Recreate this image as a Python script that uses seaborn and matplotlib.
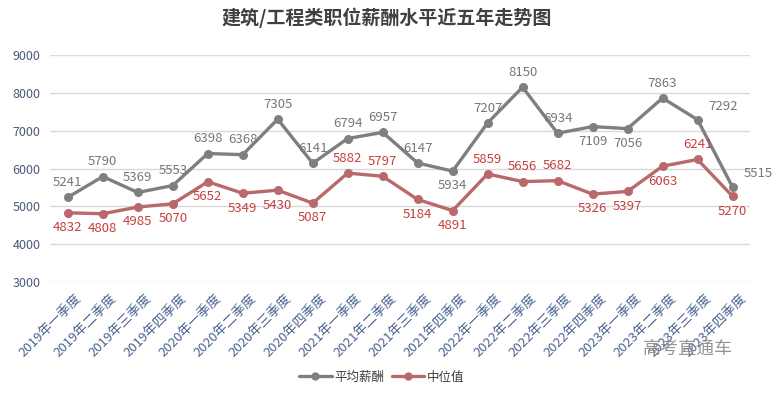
import pandas as pd
import numpy as np
import matplotlib
matplotlib.use('Agg')
import matplotlib.pyplot as plt
import matplotlib.transforms as mtrans
import seaborn as sns
from matplotlib.lines import Line2D

# Quarter labels
years = ['2019', '2020', '2021', '2022', '2023']
seasons = ['一季度', '二季度', '三季度', '四季度']
quarters = [y + '年' + s for y in years for s in seasons]

# Salary values
avg_pay = [5241, 5790, 5369, 5553, 6398, 6368, 7305, 6141, 6794, 6957,
           6147, 5934, 7207, 8150, 6934, 7109, 7056, 7863, 7292, 5515]
median_pay = [4832, 4808, 4985, 5070, 5652, 5349, 5430, 5087, 5882, 5797,
              5184, 4891, 5859, 5656, 5682, 5326, 5397, 6063, 6241, 5270]

# Label placement: 'a' above, 'b' below, 'r' right
avg_pos = list('aaaaaaaaaaabaaabbarr')
med_pos = list('bbbbbbbbaabbaaabbbab')

sns.set_theme(style='white')
plt.rcParams['font.family'] = ['Noto Sans CJK SC', 'DejaVu Sans']

df = pd.DataFrame({
    'idx': list(range(len(quarters))) * 2,
    'value': avg_pay + median_pay,
    'series': ['平均薪酬'] * len(quarters) + ['中位值'] * len(quarters),
})

avg_color = '#7f7f7f'
med_color = '#b9686b'
palette = {'平均薪酬': avg_color, '中位值': med_color}

fig = plt.figure(figsize=(7.74, 3.93), dpi=100)
ax = fig.add_axes([0.065, 0.282, 0.904, 0.578])

sns.lineplot(data=df, x='idx', y='value', hue='series', palette=palette,
             marker='o', markersize=6.5, markeredgewidth=0, linewidth=2.4,
             ax=ax, legend=False)

ax.set_xlim(-0.5, len(quarters) - 0.5)
ax.set_ylim(3000, 9000)
ax.set_yticks(range(3000, 9001, 1000))
ax.yaxis.grid(True, color='#d9d9d9', linewidth=1)
ax.xaxis.grid(False)
for s in ax.spines.values():
    s.set_visible(False)
ax.set_xlabel('')
ax.set_ylabel('')
ax.set_xticks(range(len(quarters)))
ax.set_xticklabels(quarters, rotation=45, ha='right', rotation_mode='anchor',
                   fontsize=9.5, color='#4a6390')
ax.tick_params(axis='x', length=0, pad=7)
shift = mtrans.ScaledTranslation(7 / 100, 0, fig.dpi_scale_trans)
for lbl in ax.get_xticklabels():
    lbl.set_transform(lbl.get_transform() + shift)
ax.tick_params(axis='y', length=0, pad=7, labelsize=9, labelcolor='#4a5a78')

def put_labels(vals, pos, color):
    for i, (v, p) in enumerate(zip(vals, pos)):
        if p == 'a':
            ax.annotate(str(v), (i, v), xytext=(0, 6), textcoords='offset points',
                        ha='center', va='bottom', fontsize=9.5, color=color)
        elif p == 'b':
            ax.annotate(str(v), (i, v), xytext=(0, -6), textcoords='offset points',
                        ha='center', va='top', fontsize=9.5, color=color)
        else:
            ax.annotate(str(v), (i, v), xytext=(8, 5), textcoords='offset points',
                        ha='left', va='bottom', fontsize=9.5, color=color)

put_labels(avg_pay, avg_pos, '#707880')
put_labels(median_pay, med_pos, '#c6403f')

fig.text(0.5, 0.955, '建筑/工程类职位薪酬水平近五年走势图', ha='center', va='center',
         fontsize=13.7, fontweight='bold', color='#404040')

# Legend
handles = [Line2D([0], [0], color=avg_color, marker='o', markersize=5, linewidth=2.4),
           Line2D([0], [0], color=med_color, marker='o', markersize=5, linewidth=2.4)]
fig.legend(handles, ['平均薪酬', '中位值'], loc='center', bbox_to_anchor=(0.493, 0.04),
           ncol=2, frameon=False, fontsize=9, handlelength=2.6, columnspacing=0.6,
           handletextpad=0.2, labelcolor='#404040')

# Watermark
fig.text(0.889, 0.112, '高考直通车', ha='center', va='center', fontsize=13,
         color='#8a8a8a', alpha=0.9)

fig.savefig('out.png', dpi=100)
